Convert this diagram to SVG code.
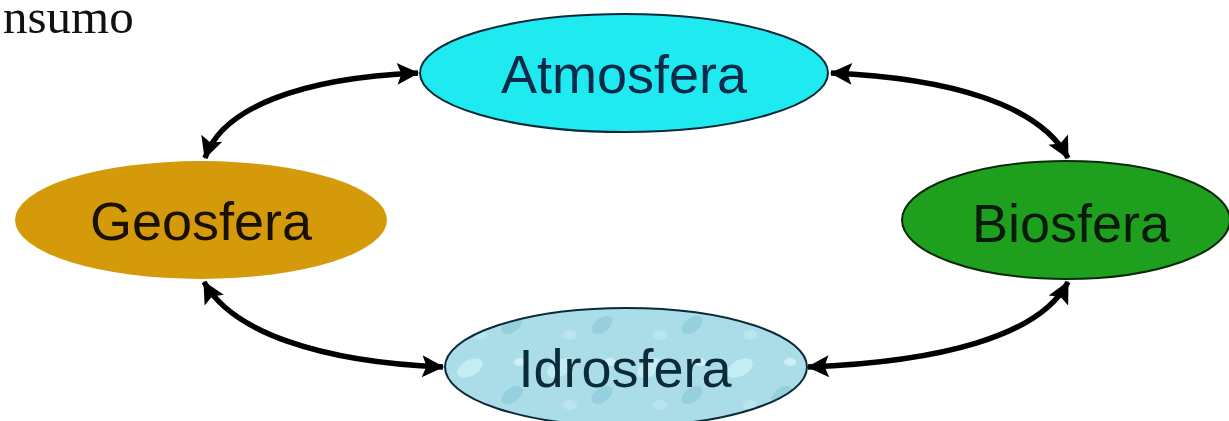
<svg xmlns="http://www.w3.org/2000/svg" width="1229" height="421" viewBox="0 0 1229 421">
<style>
.lbl{font-family:"Liberation Sans",Arial,sans-serif;font-size:54px;text-anchor:middle}
.conn{fill:none;stroke:#000;stroke-width:5.5;marker-start:url(#ah);marker-end:url(#ah)}
</style>
<defs>
<marker id="ah" viewBox="0 0 20 20" refX="19" refY="10" markerWidth="24" markerHeight="22" markerUnits="userSpaceOnUse" orient="auto-start-reverse">
<path d="M0,0 L20,10 L0,20 L4,10 Z" fill="#000"/>
</marker>
<pattern id="water" width="90" height="70" patternUnits="userSpaceOnUse">
<rect width="90" height="70" fill="#ABDDE8"/>
<ellipse cx="20" cy="18" rx="14" ry="8" fill="#C4ECF3" transform="rotate(-30 20 18)"/>
<ellipse cx="62" cy="45" rx="12" ry="7" fill="#96CFDD" transform="rotate(-35 62 45)"/>
<ellipse cx="70" cy="12" rx="6" ry="4" fill="#CDEFF5"/>
<ellipse cx="30" cy="55" rx="7" ry="5" fill="#BBE5EE"/>
</pattern>
</defs>
<rect width="1229" height="421" fill="#fff"/>
<text x="3" y="33" font-family="'Liberation Serif','Times New Roman',serif" font-size="49" fill="#111">nsumo</text>
<g id="connectors">
<path class="conn" d="M205 158 C222 108 300 78 418 73"/>
<path class="conn" d="M831 73 C950 78 1040 105 1068 158"/>
<path class="conn" d="M204 282 C232 332 320 362 443 367"/>
<path class="conn" d="M1068 282 C1040 336 940 362 808 367"/>
</g>
<g id="atmosfera">
<ellipse cx="624" cy="73" rx="204" ry="59" fill="#1EEAF0" stroke="#0a2a3a" stroke-width="2"/>
<text class="lbl" x="624" y="93" fill="#0B2A4A">Atmosfera</text>
</g>
<g id="geosfera">
<ellipse cx="201" cy="220" rx="186" ry="59" fill="#D49A0A"/>
<text class="lbl" x="201" y="240" fill="#1a1000">Geosfera</text>
</g>
<g id="biosfera">
<ellipse cx="1066" cy="220" rx="164" ry="59" fill="#1EA01E" stroke="#0a2a0a" stroke-width="2"/>
<text class="lbl" x="1071" y="242" fill="#0a1a0a">Biosfera</text>
</g>
<g id="idrosfera">
<ellipse cx="626" cy="367" rx="181" ry="59" fill="url(#water)" stroke="#0a2a3a" stroke-width="2"/>
<text class="lbl" x="625" y="387" fill="#0B2A3A">Idrosfera</text>
</g>
</svg>
